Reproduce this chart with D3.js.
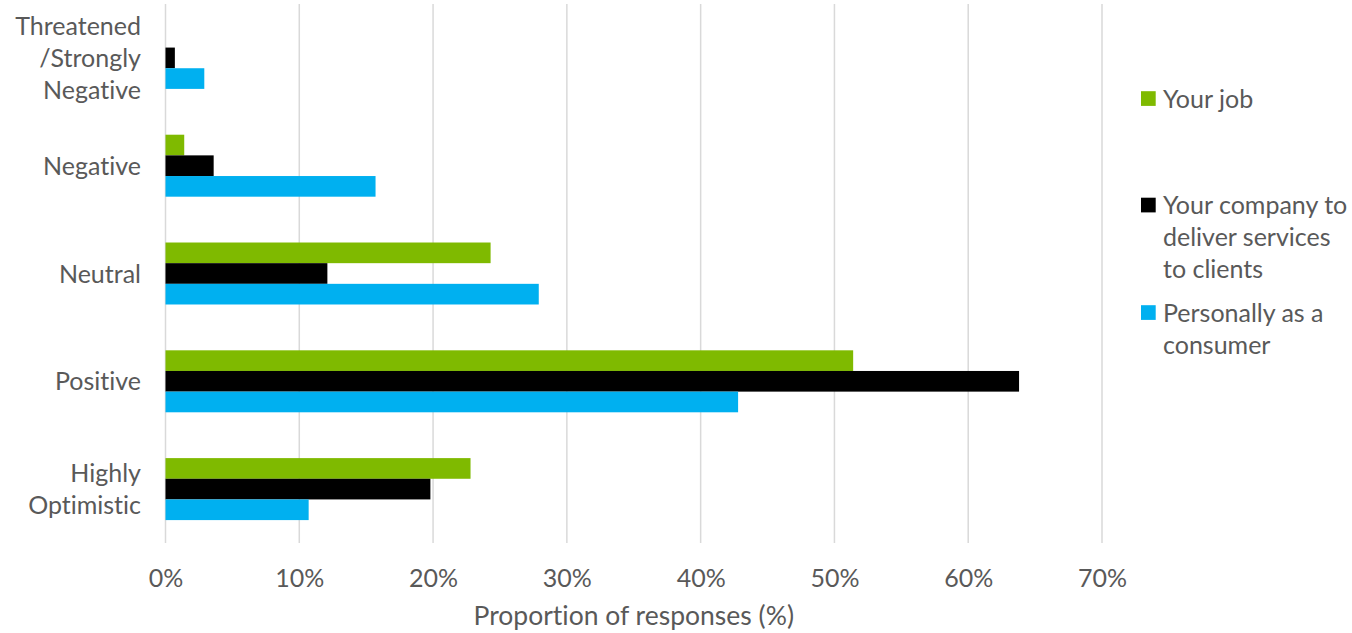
<!DOCTYPE html>
<html>
<head>
<meta charset="utf-8">
<script src="https://cdn.jsdelivr.net/npm/d3@7"></script>
<style>
  html, body { margin: 0; padding: 0; background: #fff; }
  svg { display: block; font-family: Lato, "Open Sans", sans-serif; font-variant-ligatures: none; }
</style>
</head>
<body>
<svg id="chart" width="1352" height="633"></svg>
<script>
// Survey categories, top to bottom
const categories = [
  ["Threatened", "/Strongly", "Negative"],
  ["Negative"],
  ["Neutral"],
  ["Positive"],
  ["Highly", "Optimistic"]
];
const categoryKeys = ["Threatened/Strongly Negative", "Negative", "Neutral", "Positive", "Highly Optimistic"];

// Share of responses (%) per series, in category order
const yourJob        = [0.0, 1.4, 24.3, 51.4, 22.8];
const yourCompany    = [0.7, 3.6, 12.1, 63.8, 19.8];
const personally     = [2.9, 15.7, 27.9, 42.8, 10.7];

const seriesNames  = ["Your job", "Your company to deliver services to clients", "Personally as a consumer"];
const legendLines  = [["Your job"], ["Your company to", "deliver services", "to clients"], ["Personally as a", "consumer"]];
const seriesColors = ["#7fba00", "#000000", "#00b0f0"];
const seriesValues = [yourJob, yourCompany, personally];

const xTicks = [0, 10, 20, 30, 40, 50, 60, 70];
const xTitle = "Proportion of responses (%)";

const svg = d3.select("#chart");
const textColor = "#595959";
const fontSize = 25;

const x = d3.scaleLinear().domain([0, 70]).range([165.5, 1102]);
const y0 = d3.scaleBand().domain(categoryKeys).range([4, 543])
  .paddingInner(0.425).paddingOuter(0.2125);
const y1 = d3.scaleBand().domain(seriesNames).range([0, y0.bandwidth()]);

// Vertical gridlines
svg.append("g")
  .selectAll("line")
  .data(xTicks)
  .join("line")
  .attr("x1", d => x(d)).attr("x2", d => x(d))
  .attr("y1", 4).attr("y2", 543)
  .attr("stroke", "#d9d9d9")
  .attr("stroke-width", 1.5);

// Bars
const rows = categoryKeys.map((c, i) => ({
  key: c,
  values: seriesNames.map((s, j) => ({ series: s, value: seriesValues[j][i], color: seriesColors[j] }))
}));

svg.append("g")
  .selectAll("g")
  .data(rows)
  .join("g")
  .attr("transform", d => `translate(0,${y0(d.key)})`)
  .selectAll("rect")
  .data(d => d.values.filter(v => v.value > 0))
  .join("rect")
  .attr("x", x(0))
  .attr("y", d => y1(d.series))
  .attr("width", d => x(d.value) - x(0))
  .attr("height", y1.bandwidth())
  .attr("fill", d => d.color);

// X axis tick labels
const xAxis = svg.append("g")
  .attr("transform", "translate(0,587)")
  .call(d3.axisBottom(x).tickValues(xTicks).tickFormat(d => d + "%").tickSize(0).tickPadding(0));
xAxis.select(".domain").remove();
xAxis.selectAll("text")
  .attr("dy", 0)
  .attr("y", 0)
  .attr("fill", textColor)
  .style("font-family", "Lato, 'Open Sans', sans-serif")
  .style("font-size", fontSize + "px");

// X axis title
svg.append("text")
  .attr("x", (x(0) + x(70)) / 2)
  .attr("y", 625)
  .attr("text-anchor", "middle")
  .attr("fill", textColor)
  .style("font-size", "26.5px")
  .text(xTitle);

// Category labels (multi-line, right aligned)
const lineH = 32;
svg.append("g")
  .selectAll("text")
  .data(categories.map((lines, i) => ({ lines, key: categoryKeys[i] })))
  .join("text")
  .attr("text-anchor", "end")
  .attr("fill", textColor)
  .style("font-size", fontSize + "px")
  .each(function(d) {
    const cy = y0(d.key) + y0.bandwidth() / 2;
    const first = cy + 9 - (d.lines.length - 1) * lineH / 2;
    d3.select(this).selectAll("tspan")
      .data(d.lines)
      .join("tspan")
      .attr("x", 141)
      .attr("y", (l, k) => first + k * lineH)
      .text(l => l);
  });

// Legend
const legendTops = [98.5, 205, 312.5];
const legend = svg.append("g")
  .selectAll("g")
  .data(seriesNames.map((s, i) => ({ s, lines: legendLines[i], color: seriesColors[i], cy: legendTops[i] })))
  .join("g");

legend.append("rect")
  .attr("x", 1141)
  .attr("y", d => d.cy - 7.3)
  .attr("width", 14.7)
  .attr("height", 14.7)
  .attr("fill", d => d.color);

legend.append("text")
  .attr("fill", textColor)
  .style("font-size", fontSize + "px")
  .each(function(d) {
    d3.select(this).selectAll("tspan")
      .data(d.lines)
      .join("tspan")
      .attr("x", 1163)
      .attr("y", (l, k) => d.cy + 9 + k * lineH)
      .text(l => l);
  });
</script>
</body>
</html>
